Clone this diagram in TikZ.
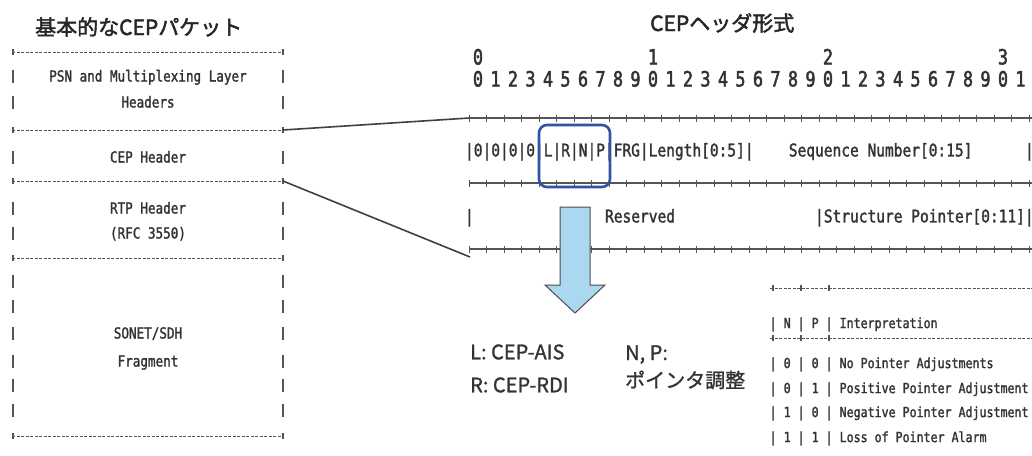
\documentclass[tikz,border=0pt]{standalone}
\usepackage{fontspec}
\newfontfamily\jpfont[FakeBold=2]{Noto Sans CJK JP}
\newfontfamily\jpnote[FakeBold=1.2]{Noto Sans CJK JP}
\newfontfamily\monofont[FakeStretch=0.83,FakeBold=1.6]{DejaVu Sans Mono}
\newfontfamily\monobold[FakeStretch=0.8,FakeBold=2.2]{DejaVu Sans Mono}
\definecolor{txt}{HTML}{333333}
\definecolor{linec}{HTML}{555555}
\definecolor{boxblue}{RGB}{48,84,164}
\definecolor{arrowblue}{RGB}{170,216,240}
\tikzset{
  ttl/.style={font=\jpfont\fontsize{21}{25}\selectfont, text=black!85, inner sep=0pt, anchor=base west},
  pkt/.style={font=\monofont\fontsize{15.2}{18}\selectfont, text=txt, inner sep=0pt, anchor=base},
  hdr/.style={font=\monofont\fontsize{17.5}{20}\selectfont, text=txt, inner sep=0pt, anchor=base west},
  bitnum/.style={font=\monobold\fontsize{21}{24}\selectfont, text=txt, inner sep=0pt, anchor=base},
  tbl/.style={font=\monofont\fontsize{14}{17}\selectfont, text=txt, inner sep=0pt, anchor=base west},
  note/.style={font=\jpnote\fontsize{20}{24}\selectfont, text=txt, inner sep=0pt, anchor=base west},
  pktline/.style={draw=linec, line width=0.9pt, dash pattern=on 3pt off 1.5pt},
  tick/.style={draw=linec, line width=1.2pt},
  bar/.style={draw=linec, line width=1.4pt},
  hdrline/.style={draw=linec, line width=1.1pt},
  conn/.style={draw=black!75, line width=1.6pt},
  lrnpbox/.style={draw=boxblue, line width=2.6pt, rounded corners=8pt, inner sep=0pt},
}
\begin{document}
\begin{tikzpicture}[x=1pt,y=-1pt]
\useasboundingbox[fill=white] (0,0) rectangle (1032,455);

% titles
\node[ttl] (t1) at (35,35) {基本的なCEPパケット};
\node[ttl] (t2) at (650,31) {CEPヘッダ形式};

% ---------- left packet ----------
\foreach \y/\n in {52/a,130/b,181/c,258/d,436/e}{
  \draw[pktline] (12,\y) -- (283,\y);
  \draw[tick] (13,\y-3) -- (13,\y+3);
  \draw[tick] (283,\y-3) -- (283,\y+3);
  \coordinate (pL\n) at (12,\y);
  \coordinate (pR\n) at (283,\y);
}
\foreach \y in {76,102,157,208,233,281,306,333,361,385,410}{
  \draw[bar] (13,\y-6.5) -- (13,\y+6.5);
  \draw[bar] (283,\y-6.5) -- (283,\y+6.5);
}
\node[pkt] (psn1) at (148,81.5) {PSN and Multiplexing Layer};
\node[pkt] (psn2) at (148,107.5) {Headers};
\node[pkt] (cep)  at (148,162.5) {CEP Header};
\node[pkt] (rtp1) at (148,213.5) {RTP Header};
\node[pkt] (rtp2) at (148,238.5) {(RFC 3550)};
\node[pkt] (son1) at (148,338.5) {SONET/SDH};
\node[pkt] (son2) at (148,366.5) {Fragment};

% ---------- header format ----------
\node[bitnum] (n0) at (478,64.5) {0};
\node[bitnum] (n1) at (653,64.5) {1};
\node[bitnum] (n2) at (828,64.5) {2};
\node[bitnum] (n3) at (1003,64.5) {3};
\foreach \k in {0,...,31}{
  \pgfmathtruncatemacro{\d}{mod(\k,10)}
  \node[bitnum] (b\k) at ({478+17.5*\k},86.5) {\d};
}
\foreach \y/\n in {118/1,183/2,249/3}{
  \draw[hdrline] (469.25,\y) -- (1040,\y);
  \foreach \k in {0,...,32}{
    \draw[tick] ({469.25+17.5*\k},\y-3.5) -- ++(0,7);
  }
  \coordinate (h\n) at (469.25,\y);
}
\coordinate (h3e) at (470,257);

\node[hdr] (r1a) at ({469.25-4.375},156.4) {|0|0|0|0|L|R|N|P|FRG|Length[0:5]|};
\node[hdr] (r1b) at ({469.25+8.75*37-4.375},156.4) {Sequence Number[0:15]};
\node[hdr] (r1c) at ({469.25+8.75*64-4.375},156.4) {|};
\node[hdr] (r2a) at ({469.25-4.375},222.4) {|};
\node[hdr] (r2b) at ({469.25+8.75*16-4.375},222.4) {Reserved};
\node[hdr] (r2c) at ({469.25+8.75*40-4.375},222.4) {|Structure Pointer[0:11]|};

% blue box around L R N P
\node[lrnpbox, minimum width=71pt, minimum height=62pt] (lrnp) at (574.5,156) {};

% connectors
\draw[conn] (pRb) -- (h1);
\draw[conn] (pRc) -- (h3e);

% big arrow
\draw[draw=black!70, line width=1pt, fill=arrowblue]
  (560,207) -- (590,207) -- (590,285) -- (605,285) -- (575,313)
  -- (545,285) -- (560,285) -- cycle;

% notes
\node[note] (nl) at (470,359.3) {L: CEP-AIS};
\node[note] (nr) at (470,392.3) {R: CEP-RDI};
\node[note] (nnp) at (625,360) {N, P:};
\node[note] (nadj) at (625,387.6) {ポインタ調整};

% table
\foreach \y in {288,338}{
  \draw[pktline] (770,\y) -- (1040,\y);
  \foreach \x in {773,801,829}{
    \draw[tick] (\x,\y-3) -- (\x,\y+3);
  }
}
\node[tbl] (th) at (769.5,328.1) {| N | P | Interpretation};
\node[tbl] (tr1) at (769.5,368.1) {| 0 | 0 | No Pointer Adjustments};
\node[tbl] (tr2) at (769.5,393.1) {| 0 | 1 | Positive Pointer Adjustment};
\node[tbl] (tr3) at (769.5,417.1) {| 1 | 0 | Negative Pointer Adjustment};
\node[tbl] (tr4) at (769.5,442.1) {| 1 | 1 | Loss of Pointer Alarm};
\end{tikzpicture}
\end{document}
